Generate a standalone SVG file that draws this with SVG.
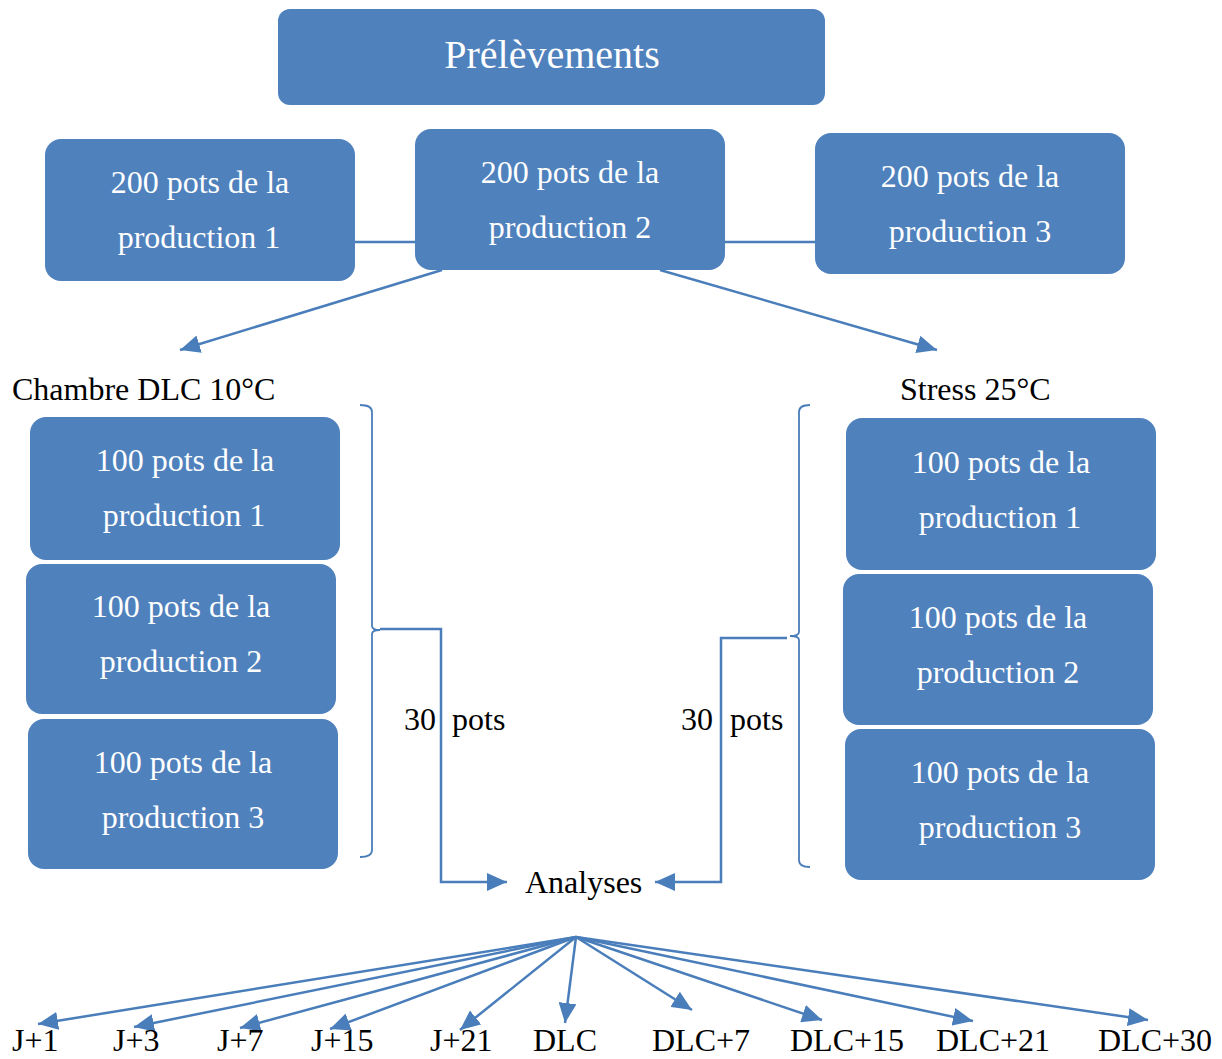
<svg xmlns="http://www.w3.org/2000/svg" width="1222" height="1059" viewBox="0 0 1222 1059">
<style>
.box{fill:#4F81BD;}
.wt{fill:#FFFFFF;font-family:"Liberation Serif","Times New Roman",serif;font-size:32px;text-anchor:middle;}
.bt{fill:#000000;font-family:"Liberation Serif","Times New Roman",serif;font-size:32px;}
.ln{fill:none;stroke:#4A7EBB;stroke-width:2.5;}
.br{fill:none;stroke:#4A7EBB;stroke-width:1.8;}
</style>
<defs>
<marker id="ah" markerUnits="userSpaceOnUse" markerWidth="22" markerHeight="18" refX="20" refY="9" orient="auto">
<path d="M0,0 L20,9 L0,18 Z" fill="#4A7EBB"/>
</marker>
</defs>
<rect width="1222" height="1059" fill="#FFFFFF"/>
<g id="connectors">
<line class="ln" x1="355" y1="242" x2="415" y2="242"/>
<line class="ln" x1="725" y1="242" x2="815" y2="242"/>
<line class="ln" x1="442" y1="270" x2="180" y2="350" marker-end="url(#ah)"/>
<line class="ln" x1="660" y1="270" x2="937" y2="350" marker-end="url(#ah)"/>
<path class="br" d="M360,405 Q372,405 372,412 L372,626 Q372,630 380,630 Q372,630 372,634 L372,850 Q372,857 360,857"/>
<path class="br" d="M810,405 Q799,405 799,412 L799,632 Q799,636 790,636 Q799,636 799,640 L799,860 Q799,867 810,867"/>
<polyline class="ln" points="380,629 441,629 441,882 507,882" marker-end="url(#ah)"/>
<polyline class="ln" points="787,638 721,638 721,882 655,882" marker-end="url(#ah)"/>
<line class="ln" x1="576" y1="937" x2="38" y2="1024" marker-end="url(#ah)"/>
<line class="ln" x1="576" y1="937" x2="134" y2="1027" marker-end="url(#ah)"/>
<line class="ln" x1="576" y1="937" x2="240" y2="1028" marker-end="url(#ah)"/>
<line class="ln" x1="576" y1="937" x2="330" y2="1029" marker-end="url(#ah)"/>
<line class="ln" x1="576" y1="937" x2="460" y2="1030" marker-end="url(#ah)"/>
<line class="ln" x1="576" y1="937" x2="565" y2="1023" marker-end="url(#ah)"/>
<line class="ln" x1="576" y1="937" x2="692" y2="1010" marker-end="url(#ah)"/>
<line class="ln" x1="576" y1="937" x2="822" y2="1020" marker-end="url(#ah)"/>
<line class="ln" x1="576" y1="937" x2="973" y2="1021" marker-end="url(#ah)"/>
<line class="ln" x1="576" y1="937" x2="1148" y2="1020" marker-end="url(#ah)"/>
</g>
<g id="prelevements">
<rect class="box" x="278" y="9" width="547" height="96" rx="12"/>
<text class="wt" x="552" y="68" style="font-size:40px">Prélèvements</text>
</g>
<g id="p200-1">
<rect class="box" x="45" y="139" width="310" height="142" rx="16"/>
<text class="wt" x="200" y="193">200 pots de la</text>
<text class="wt" x="199" y="248">production 1</text>
</g>
<g id="p200-2">
<rect class="box" x="415" y="129" width="310" height="141" rx="16"/>
<text class="wt" x="570" y="183">200 pots de la</text>
<text class="wt" x="570" y="238">production 2</text>
</g>
<g id="p200-3">
<rect class="box" x="815" y="133" width="310" height="141" rx="16"/>
<text class="wt" x="970" y="187">200 pots de la</text>
<text class="wt" x="970" y="242">production 3</text>
</g>
<g id="chambre">
<text class="bt" x="12" y="400">Chambre DLC 10°C</text>
</g>
<g id="stress">
<text class="bt" x="900" y="400">Stress 25°C</text>
</g>
<g id="l100-1">
<rect class="box" x="30" y="417" width="310" height="143" rx="16"/>
<text class="wt" x="185" y="471">100 pots de la</text>
<text class="wt" x="184" y="526">production 1</text>
</g>
<g id="l100-2">
<rect class="box" x="26" y="564" width="310" height="150" rx="16"/>
<text class="wt" x="181" y="617">100 pots de la</text>
<text class="wt" x="181" y="672">production 2</text>
</g>
<g id="l100-3">
<rect class="box" x="28" y="719" width="310" height="150" rx="16"/>
<text class="wt" x="183" y="773">100 pots de la</text>
<text class="wt" x="183" y="828">production 3</text>
</g>
<g id="r100-1">
<rect class="box" x="846" y="418" width="310" height="152" rx="16"/>
<text class="wt" x="1001" y="473">100 pots de la</text>
<text class="wt" x="1000" y="528">production 1</text>
</g>
<g id="r100-2">
<rect class="box" x="843" y="574" width="310" height="151" rx="16"/>
<text class="wt" x="998" y="628">100 pots de la</text>
<text class="wt" x="998" y="683">production 2</text>
</g>
<g id="r100-3">
<rect class="box" x="845" y="729" width="310" height="151" rx="16"/>
<text class="wt" x="1000" y="783">100 pots de la</text>
<text class="wt" x="1000" y="838">production 3</text>
</g>
<g id="labels-30">
<text class="bt" x="404" y="730">30</text>
<text class="bt" x="452" y="730">pots</text>
<text class="bt" x="681" y="730">30</text>
<text class="bt" x="730" y="730">pots</text>
</g>
<g id="analyses">
<text class="bt" x="525" y="893">Analyses</text>
</g>
<g id="times">
<text class="bt" x="12" y="1051">J+1</text>
<text class="bt" x="113" y="1051">J+3</text>
<text class="bt" x="217" y="1051">J+7</text>
<text class="bt" x="311" y="1051">J+15</text>
<text class="bt" x="430" y="1051">J+21</text>
<text class="bt" x="533" y="1051">DLC</text>
<text class="bt" x="652" y="1051">DLC+7</text>
<text class="bt" x="790" y="1051">DLC+15</text>
<text class="bt" x="936" y="1051">DLC+21</text>
<text class="bt" x="1098" y="1051">DLC+30</text>
</g>
</svg>
